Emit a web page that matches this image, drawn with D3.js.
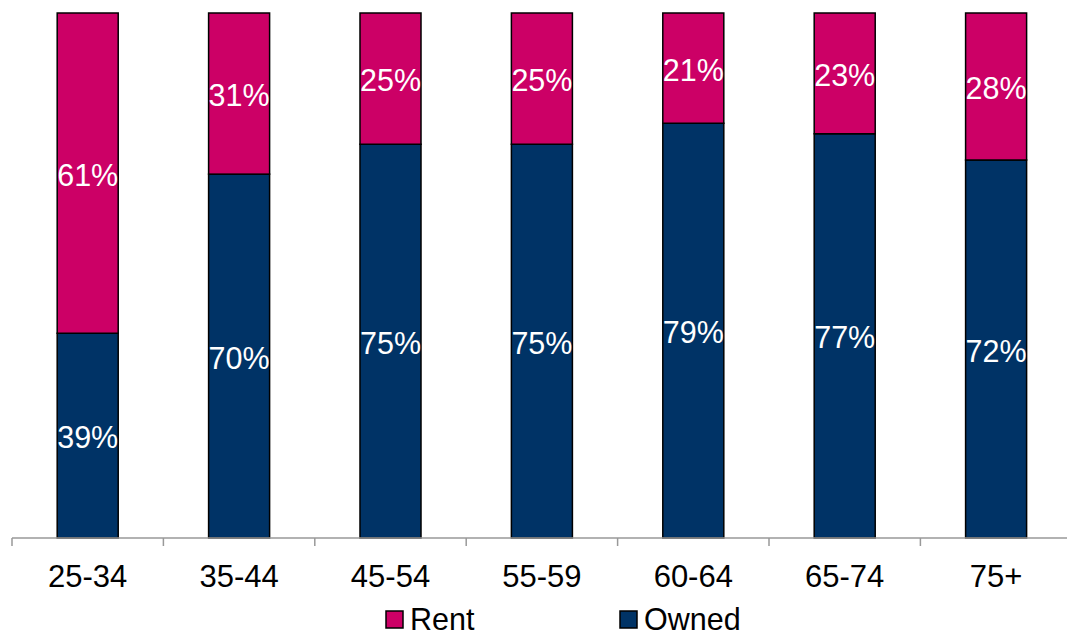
<!DOCTYPE html>
<html>
<head>
<meta charset="utf-8">
<script src="https://cdn.jsdelivr.net/npm/d3@7"></script>
<style>
  body { margin: 0; background: #fff; }
  text { font-family: "Liberation Sans", Arial, sans-serif; }
</style>
</head>
<body>
<div id="chart"></div>
<script>
// data
var ageGroups = ['25-34', '35-44', '45-54', '55-59', '60-64', '65-74', '75+'];
var owned = [39, 70, 75, 75, 79, 77, 72];
var rent  = [61, 31, 25, 25, 21, 23, 28];
var seriesNames = ['Owned', 'Rent'];

var colors = { Owned: '#003366', Rent: '#cc0066' };

var width = 1067, height = 637;
var axisY = 538, topY = 13;

var rows = ageGroups.map(function(g, i) {
    return { group: g, Owned: owned[i], Rent: rent[i] };
});

var svg = d3.select('#chart').append('svg')
    .attr('width', width)
    .attr('height', height);

var x = d3.scaleBand()
    .domain(ageGroups)
    .range([12, 12 + 7 * 151.4])
    .padding(0);

var barW = x.bandwidth() * 0.403;

var y = d3.scaleLinear().domain([0, 1]).range([axisY, topY]);

var stack = d3.stack().keys(seriesNames).offset(d3.stackOffsetExpand);
var stacked = stack(rows);

var layers = svg.selectAll('g.layer')
    .data(stacked)
    .enter().append('g')
    .attr('class', 'layer')
    .attr('fill', d => colors[d.key]);

layers.selectAll('rect')
    .data(d => d)
    .enter().append('rect')
    .attr('x', d => x(d.data.group) + x.bandwidth() / 2 - barW / 2)
    .attr('y', d => y(d[1]))
    .attr('width', barW)
    .attr('height', d => y(d[0]) - y(d[1]))
    .attr('stroke', '#000')
    .attr('stroke-width', 1.5);

// value labels centred in each segment
stacked.forEach(function(layer) {
    svg.append('g').selectAll('text')
        .data(layer)
        .enter().append('text')
        .attr('x', d => x(d.data.group) + x.bandwidth() / 2)
        .attr('y', d => (y(d[0]) + y(d[1])) / 2)
        .attr('dy', '0.41em')
        .attr('text-anchor', 'middle')
        .attr('fill', '#fff')
        .style('font-size', '30.5px')
        .text(d => d.data[layer.key] + '%');
});

// category axis
var axisG = svg.append('g').attr('transform', 'translate(0,' + axisY + ')');
axisG.append('line')
    .attr('x1', 12).attr('x2', width)
    .attr('stroke', '#999').attr('stroke-width', 1.5);
axisG.selectAll('line.tick')
    .data(ageGroups)
    .enter().append('line')
    .attr('class', 'tick')
    .attr('x1', d => x(d)).attr('x2', d => x(d))
    .attr('y1', 0).attr('y2', 8)
    .attr('stroke', '#999').attr('stroke-width', 1.5);
axisG.selectAll('text')
    .data(ageGroups)
    .enter().append('text')
    .attr('x', d => x(d) + x.bandwidth() / 2)
    .attr('y', 49)
    .attr('text-anchor', 'middle')
    .attr('fill', '#000')
    .style('font-size', '31px')
    .text(d => d);

// legend
var legendItems = [{ key: 'Rent', x: 386 }, { key: 'Owned', x: 620 }];
var legend = svg.append('g').selectAll('g')
    .data(legendItems)
    .enter().append('g')
    .attr('transform', d => 'translate(' + d.x + ',611)');
legend.append('rect')
    .attr('width', 17).attr('height', 17)
    .attr('fill', d => colors[d.key])
    .attr('stroke', '#000').attr('stroke-width', 1.5);
legend.append('text')
    .attr('x', 24).attr('y', 18.5)
    .attr('fill', '#000')
    .style('font-size', '30.5px')
    .text(d => d.key);
</script>
</body>
</html>
